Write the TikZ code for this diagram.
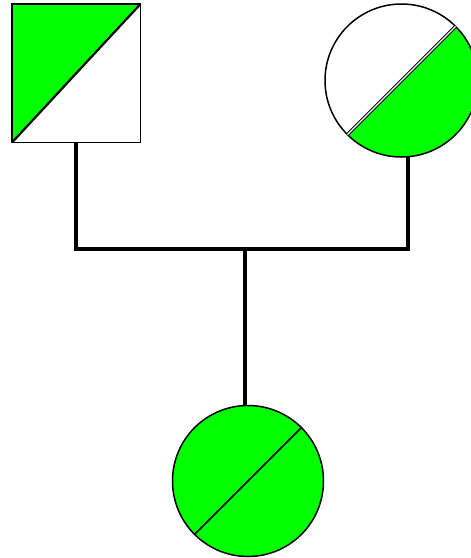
\documentclass[tikz,border=0pt]{standalone}
\definecolor{pgreen}{RGB}{0,255,0}
\tikzset{
  outline/.style={draw=black, line width=1.5pt, inner sep=0pt, outer sep=0pt},
  link/.style={line width=4pt, line cap=rect},
}
\begin{document}
\begin{tikzpicture}[x=1pt,y=-1pt]
\useasboundingbox (0,0) rectangle (471,558);
% father: square, upper-left half green
\node[outline, rectangle, minimum width=128.5pt, minimum height=138.5pt,
  path picture={\fill[pgreen] (path picture bounding box.south west) -- (path picture bounding box.north west) -- (path picture bounding box.north east) -- cycle;}]
  (father) at (76.25,73.25) {};
\draw[line width=2.2pt] (father.south west) -- (father.north east);
\draw[outline] (father.south west) rectangle (father.north east);
% mother: circle, lower-right half green, double diagonal
\node[outline, circle, minimum size=153pt,
  path picture={\fill[pgreen] (path picture bounding box.south west) -- (path picture bounding box.south east) -- (path picture bounding box.north east) -- cycle;}]
  (mother) at (401.5,80.5) {};
\draw[line width=0.9pt, double=white, double distance=1.4pt] (mother.225) -- (mother.45);
% child: fully green circle with diagonal
\node[outline, circle, minimum size=151pt, fill=pgreen] (child) at (248,481) {};
\draw[line width=1.6pt] (child.225) -- (child.45);
% connectors
\coordinate (fstem) at (father.south |- 0,249);
\coordinate (mtop) at ([xshift=6.5pt]mother.south);
\coordinate (mstem) at (mtop |- 0,249);
\coordinate (ctop) at ([xshift=-3.3pt]child.north);
\coordinate (cstem) at (ctop |- 0,249);
\draw[line width=4pt] (father.south) -- ([yshift=-2pt]fstem);
\draw[line width=4pt] (mtop) -- ([yshift=-2pt]mstem);
\draw[line width=4pt] ([xshift=-2pt]fstem) -- ([xshift=2pt]mstem);
\draw[line width=4pt] (cstem) -- (ctop);
\end{tikzpicture}
\end{document}
